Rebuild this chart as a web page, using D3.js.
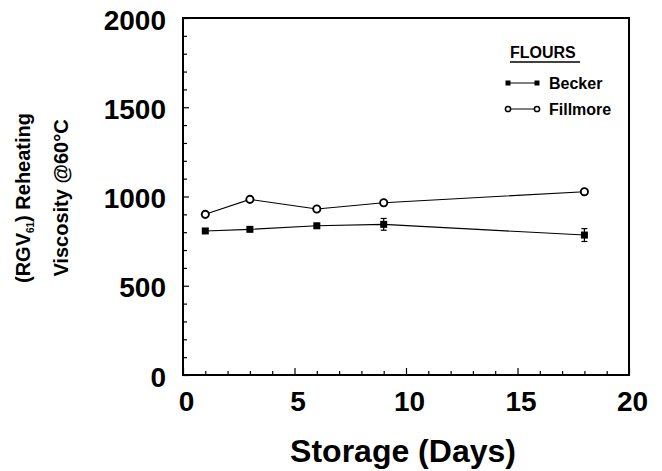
<!DOCTYPE html>
<html><head><meta charset="utf-8">
<script src="https://cdn.jsdelivr.net/npm/d3@7"></script>
<style>
html,body{margin:0;padding:0;background:#fff;}
svg text{font-family:"Liberation Sans",Arial,Helvetica,sans-serif;font-weight:bold;fill:#000;}
</style></head>
<body>
<svg id="c" width="662" height="471"></svg>
<script>
const days = [1, 3, 6, 9, 18];
const becker = [807, 816, 836, 844, 784];
const beckerErr = [0, 0, 0, 33, 36];
const fillmore = [900, 984, 930, 965, 1027];
const xTickLabels = [0, 5, 10, 15, 20];
const yTickLabels = [0, 500, 1000, 1500, 2000];
const seriesNames = ["Becker", "Fillmore"];

const svg = d3.select("#c");
const L = 183, R = 629, T = 18, B = 375;
const x = d3.scaleLinear().domain([0, 20]).range([L, R]);
const y = d3.scaleLinear().domain([0, 2000]).range([B, T]);

// minor ticks
const gx = svg.append("g").attr("transform", `translate(0,${B})`)
  .call(d3.axisBottom(x).tickValues(d3.range(0, 21)).tickSizeInner(-4).tickSizeOuter(0).tickFormat(""));
gx.selectAll(".tick line").attr("y2", d => d % 5 === 0 ? -7 : -4).attr("stroke-width", 1.2);
gx.select(".domain").remove();
const gy = svg.append("g").attr("transform", `translate(${L},0)`)
  .call(d3.axisLeft(y).tickValues(d3.range(0, 2001, 100)).tickSizeInner(-4).tickSizeOuter(0).tickFormat(""));
gy.selectAll(".tick line").attr("x2", d => d % 500 === 0 ? 6 : 4).attr("stroke-width", 1.2);
gy.select(".domain").remove();

// labels
const lx = svg.append("g").attr("transform", `translate(0,${B})`)
  .call(d3.axisBottom(x).tickValues(xTickLabels).tickSize(0).tickPadding(0).tickFormat(d3.format("d")));
lx.select(".domain").remove();
lx.selectAll("text").attr("dy", null).attr("y", 36).attr("dx", 3)
  .style("font-size", "28px").style("font-family", '"Liberation Sans",Arial,sans-serif').style("font-weight", "bold");
const ly = svg.append("g").attr("transform", `translate(${L},0)`)
  .call(d3.axisLeft(y).tickValues(yTickLabels).tickSize(0).tickPadding(0).tickFormat(d3.format("d")));
ly.select(".domain").remove();
ly.selectAll("text").attr("x", -17).attr("dy", null).attr("y", 11)
  .style("font-size", "28px").style("font-family", '"Liberation Sans",Arial,sans-serif').style("font-weight", "bold");

// frame
svg.append("rect").attr("x", L).attr("y", T).attr("width", R - L).attr("height", B - T)
  .attr("fill", "none").attr("stroke", "#000").attr("stroke-width", 2);

// lines
const line = d3.line().x(d => x(d[0])).y(d => y(d[1]));
const bData = days.map((d, i) => [d, becker[i], beckerErr[i]]);
const fData = days.map((d, i) => [d, fillmore[i]]);
svg.append("path").attr("d", line(fData)).attr("fill", "none").attr("stroke", "#000").attr("stroke-width", 1.1);
svg.append("path").attr("d", line(bData)).attr("fill", "none").attr("stroke", "#000").attr("stroke-width", 1.1);

// error bars
const eb = svg.append("g").selectAll("g").data(bData.filter(d => d[2] > 0)).join("g");
eb.append("line").attr("x1", d => x(d[0])).attr("x2", d => x(d[0]))
  .attr("y1", d => y(d[1] - d[2])).attr("y2", d => y(d[1] + d[2])).attr("stroke", "#000").attr("stroke-width", 1.2);
eb.append("line").attr("x1", d => x(d[0]) - 3).attr("x2", d => x(d[0]) + 3)
  .attr("y1", d => y(d[1] - d[2])).attr("y2", d => y(d[1] - d[2])).attr("stroke", "#000").attr("stroke-width", 1.2);
eb.append("line").attr("x1", d => x(d[0]) - 3).attr("x2", d => x(d[0]) + 3)
  .attr("y1", d => y(d[1] + d[2])).attr("y2", d => y(d[1] + d[2])).attr("stroke", "#000").attr("stroke-width", 1.2);

// markers
svg.append("g").selectAll("rect").data(bData).join("rect")
  .attr("x", d => x(d[0]) - 3.5).attr("y", d => y(d[1]) - 3.5).attr("width", 7).attr("height", 7).attr("fill", "#000");
svg.append("g").selectAll("circle").data(fData).join("circle")
  .attr("cx", d => x(d[0])).attr("cy", d => y(d[1])).attr("r", 3.6)
  .attr("fill", "#fff").attr("stroke", "#000").attr("stroke-width", 1.9);

// legend
svg.append("text").attr("x", 510).attr("y", 58).style("font-size", "16px").text("FLOURS");
svg.append("line").attr("x1", 510).attr("x2", 580).attr("y1", 62).attr("y2", 62).attr("stroke", "#000").attr("stroke-width", 1.3);
const leg = svg.append("g").selectAll("g").data(seriesNames).join("g")
  .attr("transform", (d, i) => `translate(0,${83 + i * 26})`);
leg.append("line").attr("x1", 508).attr("x2", 537).attr("y1", 0).attr("y2", 0).attr("stroke", "#000").attr("stroke-width", 1);
leg.each(function(d, i) {
  const g = d3.select(this);
  [508, 537].forEach(cx => {
    if (i === 0) g.append("rect").attr("x", cx - 2.5).attr("y", -2.5).attr("width", 5).attr("height", 5).attr("fill", "#000");
    else g.append("circle").attr("cx", cx).attr("cy", 0).attr("r", 2.6).attr("fill", "#fff").attr("stroke", "#000").attr("stroke-width", 1.5);
  });
});
leg.append("text").attr("x", 549).attr("y", 6).style("font-size", "16px").text(d => d);

// axis titles
svg.append("text").attr("x", (L + R) / 2 - 3).attr("y", 462).attr("text-anchor", "middle")
  .style("font-size", "32px").text("Storage (Days)");
const yt = svg.append("text").attr("transform", "translate(30,198) rotate(-90)").attr("text-anchor", "middle")
  .style("font-size", "20px");
yt.append("tspan").text("(RGV");
yt.append("tspan").attr("dy", 4).style("font-size", "10px").text("61");
yt.append("tspan").attr("dy", -4).text(") Reheating");
svg.append("text").attr("transform", "translate(68,198) rotate(-90)").attr("text-anchor", "middle")
  .style("font-size", "20px").text("Viscosity @60°C");
</script>
</body></html>
